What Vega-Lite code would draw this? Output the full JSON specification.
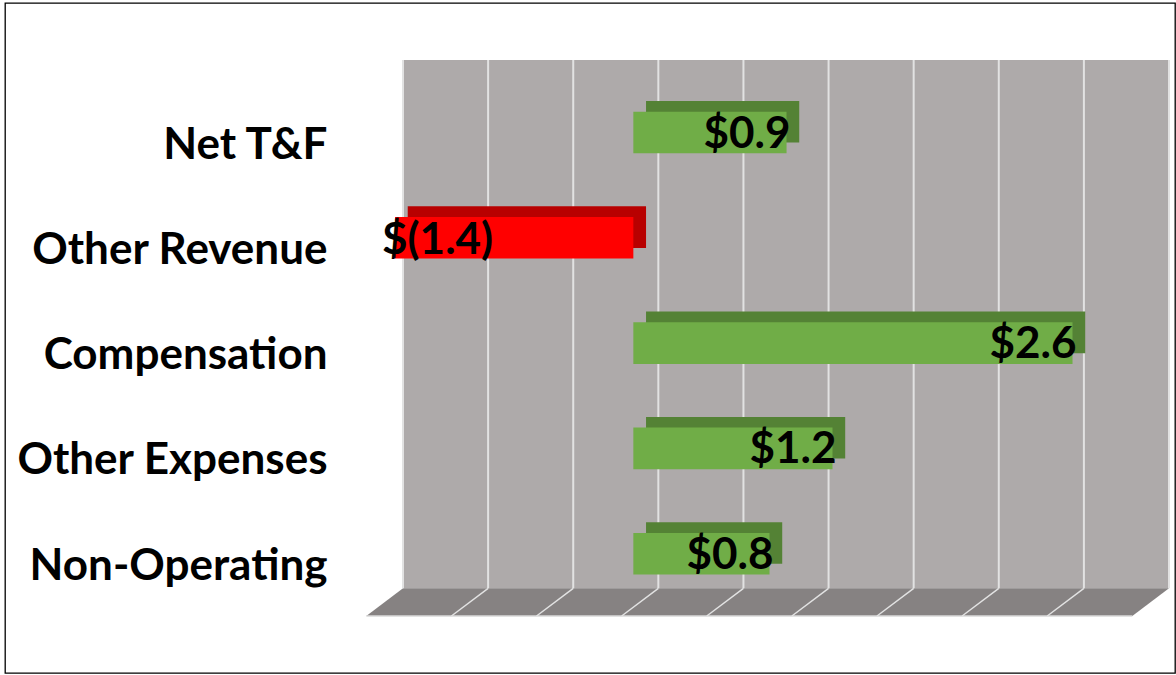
{
  "$schema": "https://vega.github.io/schema/vega-lite/v6.json",
  "autosize": {"type": "none"},
  "width": 1170,
  "height": 670,
  "padding": {"left": 5, "top": 3, "right": 1, "bottom": 2},
  "background": "white",
  "config": {"view": {"stroke": "#000000", "strokeWidth": 1.3}, "font": "Lato"},
  "datasets": {
    "values": [
      {"item": "Net T&F", "value": 0.9, "label": "$0.9"},
      {"item": "Other Revenue", "value": -1.4, "label": "$(1.4)"},
      {"item": "Compensation", "value": 2.58, "label": "$2.6"},
      {"item": "Other Expenses", "value": 1.17, "label": "$1.2"},
      {"item": "Non-Operating", "value": 0.8, "label": "$0.8"}
    ],
    "grid": [
      {"g": -1.5, "gf": -1.7156},
      {"g": -1.0, "gf": -1.2156},
      {"g": -0.5, "gf": -0.7156},
      {"g": 0.0, "gf": -0.2156},
      {"g": 0.5, "gf": 0.2844},
      {"g": 1.0, "gf": 0.7844},
      {"g": 1.5, "gf": 1.2844},
      {"g": 2.0, "gf": 1.7844},
      {"g": 2.5, "gf": 2.2844},
      {"g": 3.0, "gf": 2.7844}
    ],
    "wall": [{"xl": -1.5, "xr": 3.0, "lo": 0, "hi": 1}],
    "floor": [
      {"depth": 0, "xl": -1.5, "xr": 3.0},
      {"depth": -0.0524, "xl": -1.7156, "xr": 2.7844}
    ]
  },
  "resolve": {"scale": {"y": "independent"}},
  "layer": [
    {
      "layer": [
        {
          "data": {"name": "wall"},
          "mark": {"type": "rect", "fill": "#aeaaaa"},
          "encoding": {
            "x": {"field": "xl", "type": "quantitative", "scale": {"domain": [-3.8381, 3.0352], "nice": false, "zero": false}, "axis": null},
            "x2": {"field": "xr"},
            "y": {"field": "lo", "type": "quantitative", "scale": {"domain": [-0.1603, 1.1079], "nice": false, "zero": false}, "axis": null},
            "y2": {"field": "hi"}
          }
        },
        {
          "data": {"name": "floor"},
          "mark": {"type": "area", "orient": "horizontal", "fill": "#868282"},
          "encoding": {
            "y": {"field": "depth", "type": "quantitative", "scale": {"domain": [-0.1603, 1.1079], "nice": false, "zero": false}, "axis": null},
            "x": {"field": "xl", "type": "quantitative", "stack": null, "scale": {"domain": [-3.8381, 3.0352], "nice": false, "zero": false}, "axis": null},
            "x2": {"field": "xr"}
          }
        },
        {
          "data": {"name": "floor"},
          "transform": [{"filter": "datum.depth < 0"}],
          "mark": {"type": "rule", "stroke": "#d9d9d9", "strokeWidth": 1.5},
          "encoding": {
            "y": {"field": "depth", "type": "quantitative", "scale": {"domain": [-0.1603, 1.1079], "nice": false, "zero": false}, "axis": null},
            "x": {"field": "xl", "type": "quantitative", "scale": {"domain": [-3.8381, 3.0352], "nice": false, "zero": false}, "axis": null},
            "x2": {"field": "xr"}
          }
        },
        {
          "data": {"name": "grid"},
          "mark": {"type": "rule", "stroke": "#e2e2e2", "strokeWidth": 2},
          "encoding": {
            "x": {"field": "g", "type": "quantitative", "scale": {"domain": [-3.8381, 3.0352], "nice": false, "zero": false}, "axis": null},
            "y": {"datum": 0, "type": "quantitative", "scale": {"domain": [-0.1603, 1.1079], "nice": false, "zero": false}, "axis": null},
            "y2": {"datum": 1}
          }
        },
        {
          "data": {"name": "grid"},
          "transform": [{"filter": "datum.g > -1.5 && datum.g < 3"}],
          "mark": {"type": "rule", "stroke": "#e2e2e2", "strokeWidth": 1.5},
          "encoding": {
            "x": {"field": "g", "type": "quantitative", "scale": {"domain": [-3.8381, 3.0352], "nice": false, "zero": false}, "axis": null},
            "x2": {"field": "gf"},
            "y": {"datum": 0, "type": "quantitative", "scale": {"domain": [-0.1603, 1.1079], "nice": false, "zero": false}, "axis": null},
            "y2": {"datum": -0.0524}
          }
        }
      ]
    },
    {
      "data": {"name": "values"},
      "encoding": {
        "y": {
          "field": "item",
          "type": "nominal",
          "sort": null,
          "scale": {"paddingInner": 0.605, "paddingOuter": 0.984, "align": 0.5246},
          "axis": {
            "title": null,
            "domain": false,
            "ticks": false,
            "tickSize": 0,
            "grid": false,
            "labelPadding": -322,
            "labelAlign": "right",
            "labelBaseline": "alphabetic",
            "labelOffset": 26,
            "labelFont": "Lato",
            "labelFontSize": 44,
            "labelFontWeight": "bold",
            "labelColor": "#000000",
            "labelLimit": 600
          }
        }
      },
      "layer": [
        {
          "mark": {"type": "bar", "xOffset": -12.3, "x2Offset": -12.3, "yOffset": -10.7, "y2Offset": -10.7},
          "encoding": {
            "x": {"field": "value", "type": "quantitative", "stack": null, "scale": {"domain": [-3.8381, 3.0352], "nice": false, "zero": false}, "axis": null},
            "x2": {"datum": 0},
            "fill": {"condition": {"test": "datum.value < 0", "value": "#b80000"}, "value": "#548235"}
          }
        },
        {
          "mark": {"type": "bar", "xOffset": -25, "x2Offset": -25},
          "encoding": {
            "x": {"field": "value", "type": "quantitative", "stack": null, "scale": {"domain": [-3.8381, 3.0352], "nice": false, "zero": false}, "axis": null},
            "x2": {"datum": 0},
            "fill": {"condition": {"test": "datum.value < 0", "value": "#ff0000"}, "value": "#70ad47"}
          }
        },
        {
          "transform": [{"filter": "datum.value >= 0"}],
          "mark": {"type": "text", "align": "right", "baseline": "alphabetic", "dx": -21, "dy": 15, "font": "Lato", "fontSize": 44, "fontWeight": "bold", "fill": "#000000"},
          "encoding": {
            "x": {"field": "value", "type": "quantitative", "scale": {"domain": [-3.8381, 3.0352], "nice": false, "zero": false}, "axis": null},
            "text": {"field": "label"}
          }
        },
        {
          "transform": [{"filter": "datum.value < 0"}],
          "mark": {"type": "text", "align": "left", "baseline": "alphabetic", "dx": -38, "dy": 16, "font": "Lato", "fontSize": 44, "fontWeight": "bold", "fill": "#000000"},
          "encoding": {
            "x": {"field": "value", "type": "quantitative", "scale": {"domain": [-3.8381, 3.0352], "nice": false, "zero": false}, "axis": null},
            "text": {"field": "label"}
          }
        }
      ]
    }
  ]
}
